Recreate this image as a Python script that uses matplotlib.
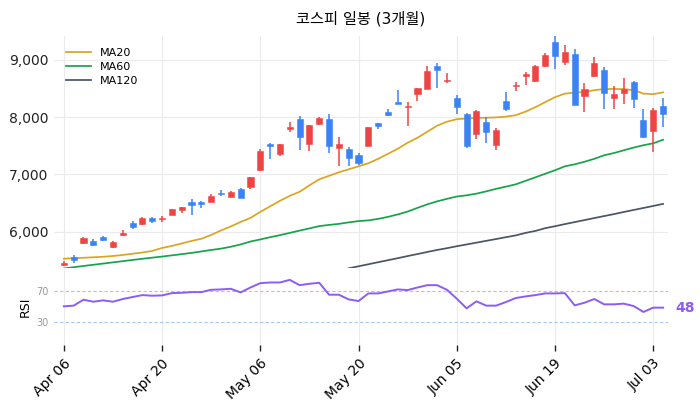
import matplotlib
matplotlib.use("Agg")
import matplotlib.pyplot as plt
import numpy as np
import pandas as pd

plt.rcParams['font.family'] = ['DejaVu Sans', 'Noto Sans CJK KR']

# ---- data ----
holidays = ['2026-05-01', '2026-05-05', '2026-05-25', '2026-06-03']
dates = pd.bdate_range('2026-04-06', '2026-07-06', freq='C', holidays=holidays)

opens = [5430, 5564, 5808, 5843, 5908, 5744, 5953, 6157, 6145, 6244,
         6222, 6302, 6384, 6518, 6518, 6528, 6680, 6616, 6745, 6790,
         7081, 7523, 7348, 7784, 7971, 7529, 7871, 7971, 7453, 7448,
         7343, 7488, 7889, 8093, 8250, 8175, 8395, 8489, 8895, 8628,
         8332, 8058, 7704, 7918, 7505, 8285, 8534, 8716, 8621, 8883,
         9314, 8953, 9104, 8360, 8709, 8825, 8337, 8419, 8604, 7953,
         7749, 8198]
highs = [5494, 5599, 5918, 5873, 5935, 5849, 6035, 6192, 6256, 6256,
         6279, 6407, 6436, 6576, 6541, 6657, 6733, 6715, 6767, 6964,
         7435, 7552, 7523, 7913, 8023, 7866, 8006, 8053, 7657, 7470,
         7366, 7831, 7901, 8140, 8477, 8255, 8500, 8883, 8942, 8768,
         8377, 8070, 8128, 8000, 7808, 8442, 8611, 8778, 8900, 9117,
         9406, 9261, 9186, 8594, 9047, 8865, 8534, 8680, 8633, 8140,
         8157, 8332]
lows = [5407, 5454, 5785, 5756, 5849, 5726, 5935, 6058, 6128, 6162,
        6174, 6296, 6326, 6302, 6413, 6523, 6623, 6605, 6598, 6750,
        7069, 7268, 7320, 7732, 7425, 7400, 7854, 7372, 7151, 7151,
        7168, 7488, 7796, 8023, 8232, 7843, 8285, 8489, 8506, 8586,
        8053, 7460, 7617, 7547, 7430, 8098, 8447, 8564, 8604, 8872,
        8843, 8912, 8203, 8088, 8698, 8145, 8140, 8227, 8157, 7627,
        7395, 7826]
closes = [5465, 5506, 5890, 5773, 5866, 5831, 5988, 6087, 6244, 6197,
          6232, 6401, 6436, 6476, 6483, 6628, 6663, 6698, 6598, 6954,
          7400, 7488, 7523, 7831, 7645, 7866, 7983, 7488, 7535, 7285,
          7203, 7831, 7849, 8040, 8232, 8198, 8500, 8808, 8813, 8651,
          8175, 7488, 8110, 7732, 7779, 8140, 8564, 8743, 8883, 9087,
          9057, 9139, 8203, 8494, 8947, 8419, 8407, 8494, 8314, 7645,
          8115, 8046]

ma20 = [5534, 5543, 5550, 5559, 5567, 5581, 5599, 5620, 5642, 5669,
        5721, 5756, 5799, 5843, 5881, 5948, 6026, 6096, 6174, 6244,
        6349, 6445, 6541, 6628, 6698, 6811, 6916, 6977, 7038, 7090,
        7142, 7195, 7273, 7360, 7448, 7552, 7639, 7744, 7849, 7918,
        7962, 7974, 7983, 7988, 7993, 8006, 8032, 8093, 8171, 8258,
        8346, 8407, 8424, 8433, 8468, 8485, 8489, 8485, 8468, 8407,
        8398, 8429]
ma60 = [5363, 5386, 5407, 5428, 5449, 5470, 5491, 5512, 5533, 5552,
        5571, 5592, 5613, 5635, 5660, 5686, 5709, 5742, 5782, 5833,
        5869, 5908, 5944, 5983, 6023, 6061, 6101, 6122, 6140, 6166,
        6188, 6201, 6227, 6262, 6305, 6354, 6419, 6480, 6532, 6576,
        6616, 6637, 6666, 6706, 6750, 6788, 6828, 6889, 6950, 7012,
        7073, 7142, 7177, 7221, 7273, 7334, 7373, 7421, 7468, 7509,
        7543, 7604]
nan = np.nan
ma120 = [nan] * 28 + [
        5294, 5367,
        5402, 5437, 5473, 5508, 5543, 5580, 5615, 5651, 5686, 5717,
        5751, 5782, 5813, 5845, 5876, 5908, 5939, 5983, 6017, 6065,
        6099, 6136, 6171, 6206, 6241, 6276, 6310, 6347, 6382, 6417,
        6452, 6488]
rsi = [50.2, 51.1, 58.8, 56.2, 58.0, 56.2, 59.7, 62.3, 64.8, 64.0,
       64.4, 67.4, 67.8, 68.7, 68.7, 71.7, 72.2, 73.0, 68.3, 74.7,
       80.3, 81.2, 81.2, 84.6, 77.7, 79.5, 80.8, 65.3, 65.3, 59.2,
       57.1, 67.0, 67.0, 69.6, 72.2, 71.3, 74.7, 77.7, 77.7, 71.7,
       60.1, 47.6, 56.7, 51.1, 51.1, 55.8, 61.0, 63.1, 64.8, 67.0,
       67.0, 67.4, 51.5, 54.9, 59.7, 52.8, 52.8, 53.7, 50.6, 42.9,
       48.5, 48.5]

# ---- style ----
UP = '#ef4444'
DOWN = '#3b82f6'
GRID = '#ebebeb'

fig = plt.figure(figsize=(7.0, 4.11), dpi=100)
ax = fig.add_axes([54/700, 1-268/411, 614/700, (268-36)/411])
axr = fig.add_axes([54/700, 1-345/411, 614/700, (345-268)/411], sharex=ax)

x = np.arange(len(dates))
o = np.array(opens); h = np.array(highs); l = np.array(lows); c = np.array(closes)
cols = [UP if cc >= oo else DOWN for oo, cc in zip(o, c)]
ax.vlines(x, l, h, colors=cols, linewidth=1.1, zorder=3)
body = np.maximum(np.abs(c - o), 22)
ax.bar(x, body, bottom=np.minimum(o, c), width=0.62, color=cols,
       edgecolor=cols, linewidth=0.4, zorder=4)

ax.plot(x, ma20, color='#daa520', lw=1.25, label='MA20', zorder=2)
ax.plot(x, ma60, color='#16a34a', lw=1.25, label='MA60', zorder=2)
ax.plot(x, ma120, color='#4b5563', lw=1.25, label='MA120', zorder=2)

ax.set_xlim(-1.0, 61.5)
ax.set_ylim(5372, 9410)
ax.set_yticks([6000, 7000, 8000, 9000])
ax.set_yticklabels([f'{v:,}' for v in [6000, 7000, 8000, 9000]])
ax.tick_params(axis='y', length=0, labelsize=10, pad=4, labelcolor='#222')
ax.tick_params(axis='x', length=0, labelbottom=False)
ax.grid(True, color=GRID, lw=0.8, zorder=0)
for s in ax.spines.values():
    s.set_visible(False)
ax.set_title('코스피 일봉 (3개월)', fontsize=11, pad=9)
leg = ax.legend(loc='upper left', frameon=False, fontsize=8,
                handlelength=2.2, borderaxespad=0.7, labelspacing=0.35)

# RSI panel
axr.plot(x, rsi, color='#8b5cf6', lw=1.4, zorder=3)
axr.axhline(70, color='#ef4444', lw=0.8, ls='--', alpha=0.45, dashes=(3, 2))
axr.axhline(30, color='#3b82f6', lw=0.8, ls='--', alpha=0.45, dashes=(3, 2))
axr.set_ylim(0, 100)
axr.set_yticks([30, 70])
axr.tick_params(axis='y', length=0, labelsize=7, labelcolor='#999', pad=4)
axr.set_ylabel('RSI', fontsize=9, labelpad=3)
axr.grid(True, axis='x', color=GRID, lw=0.8, zorder=0)
for s in axr.spines.values():
    s.set_visible(False)
axr.text(61.5 + 0.8, rsi[-1], f'{rsi[-1]:.0f}', color='#8b5cf6',
         fontsize=10, fontweight='bold', va='center', ha='left')

ticks = list(range(0, len(dates), 10))
axr.set_xticks(ticks)
axr.set_xticklabels([dates[i].strftime('%b %d') for i in ticks],
                    rotation=45, ha='right', rotation_mode='anchor', fontsize=10)
axr.tick_params(axis='x', length=4, width=1, color='#222', pad=4)

fig.savefig('out.png', dpi=100)
